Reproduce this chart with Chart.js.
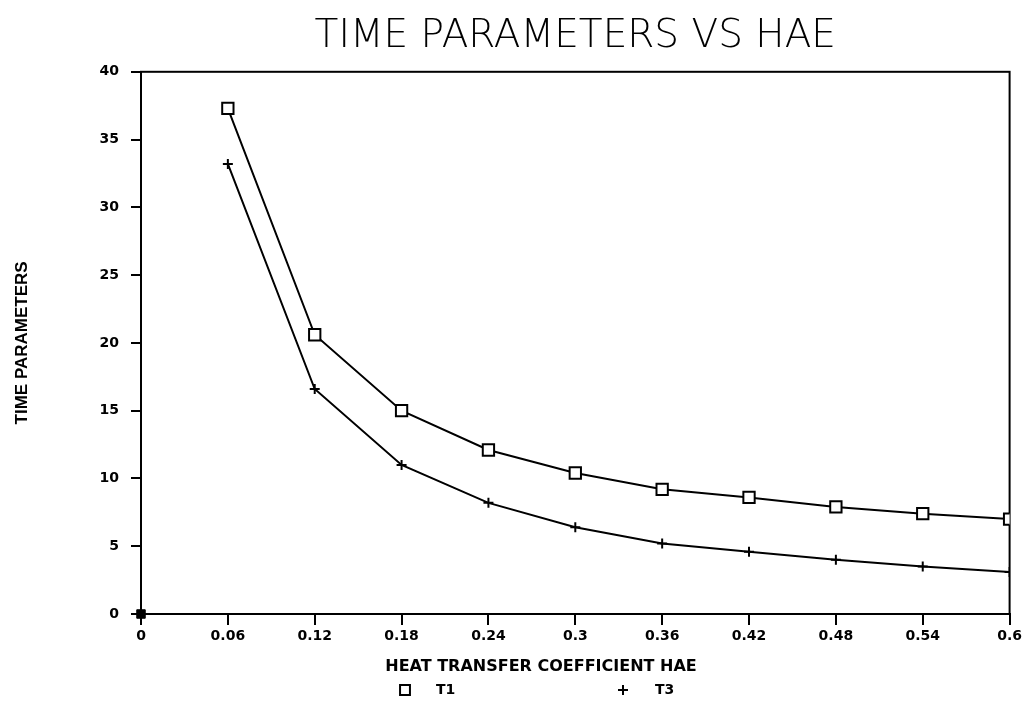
<!DOCTYPE html>
<html>
<head>
<meta charset="utf-8">
<title>Time parameters vs HAE</title>
<script src="https://cdn.jsdelivr.net/npm/chart.js@4.4.0/dist/chart.umd.min.js"></script>
<style>
  html, body { margin: 0; padding: 0; background: #fff; }
</style>
</head>
<body>
<canvas id="chart" width="1025" height="705"></canvas>
<script>
// values
const hae = [0.06, 0.12, 0.18, 0.24, 0.30, 0.36, 0.42, 0.48, 0.54, 0.60];
const t1 = [37.3, 20.6, 15.0, 12.1, 10.4, 9.2, 8.6, 7.9, 7.4, 7.0];
const t3 = [33.2, 16.6, 11.0, 8.2, 6.4, 5.2, 4.6, 4.0, 3.5, 3.1];
const originPoint = [0, 0];

const xTicks = [0, 0.06, 0.12, 0.18, 0.24, 0.30, 0.36, 0.42, 0.48, 0.54, 0.60];
const xTickLabels = ['0', '0.06', '0.12', '0.18', '0.24', '0.3', '0.36', '0.42', '0.48', '0.54', '0.6'];
const keyNames = ['T1', 'T3'];
const xCaption = 'HEAT TRANSFER COEFFICIENT HAE';

const tickFont = { family: 'DejaVu Sans', size: 14, weight: 'bold' };

// box round the plot area
const frame = {
    id: 'frame',
    beforeDatasetsDraw(chart) {
        const { ctx, chartArea: a } = chart;
        ctx.save();
        ctx.strokeStyle = '#000';
        ctx.lineWidth = 2;
        ctx.strokeRect(a.left, a.top, a.right - a.left, a.bottom - a.top);
        ctx.restore();
    }
};

// axis caption and key row under the x ticks, placed like the old plotter did
const keyRow = {
    id: 'keyRow',
    afterDraw(chart, args, opts) {
        const { ctx, chartArea: a } = chart;
        ctx.save();
        ctx.fillStyle = '#000';
        ctx.font = 'bold 16px "DejaVu Sans"';
        ctx.textBaseline = 'middle';
        ctx.textAlign = 'center';
        ctx.fillText(xCaption, a.left + opts.captionX, a.bottom + opts.captionDy);

        const y = a.bottom + opts.keyDy;
        ctx.font = 'bold 14px "DejaVu Sans"';
        ctx.textAlign = 'left';
        keyNames.forEach((name, i) => {
            const ds = chart.data.datasets[i];
            ctx.strokeStyle = '#000';
            ctx.fillStyle = '#fff';
            ctx.lineWidth = 2;
            Chart.helpers.drawPoint(ctx, {
                pointStyle: ds.pointStyle,
                radius: ds.pointStyle === 'rect' ? 7 : 5,
                rotation: 0,
                borderWidth: 2
            }, a.left + opts.markerX[i], y);
            ctx.fillStyle = '#000';
            ctx.fillText(name, a.left + opts.textX[i], y);
        });
        ctx.restore();
    }
};

new Chart(document.getElementById('chart'), {
    type: 'line',
    data: {
        datasets: [
            {
                label: keyNames[0],
                data: hae.map((x, i) => ({ x: x, y: t1[i] })),
                borderColor: '#000',
                borderWidth: 2,
                pointStyle: 'rect',
                pointRadius: 8,
                pointBorderWidth: 2,
                pointBackgroundColor: '#fff',
                pointBorderColor: '#000',
                tension: 0
            },
            {
                label: keyNames[1],
                data: hae.map((x, i) => ({ x: x, y: t3[i] })),
                borderColor: '#000',
                borderWidth: 2,
                pointStyle: 'cross',
                pointRadius: 5,
                pointBorderWidth: 2,
                pointBorderColor: '#000',
                tension: 0
            },
            {
                data: [{ x: originPoint[0], y: originPoint[1] }],
                showLine: false,
                pointStyle: 'rect',
                pointRadius: 6,
                pointBackgroundColor: '#000',
                pointBorderColor: '#000',
                clip: false
            }
        ]
    },
    options: {
        responsive: false,
        animation: false,
        devicePixelRatio: 1,
        layout: { padding: { left: 0, right: 15, top: 0, bottom: 25 } },
        scales: {
            x: {
                type: 'linear',
                min: 0,
                max: 0.6,
                afterBuildTicks: axis => { axis.ticks = xTicks.map(v => ({ value: v })); },
                afterFit: axis => { axis.height = 66; },
                ticks: {
                    color: '#000',
                    font: tickFont,
                    padding: 3,
                    maxRotation: 0,
                    autoSkip: false,
                    callback: (v, i) => xTickLabels[i]
                },
                grid: { drawOnChartArea: false, color: '#000', lineWidth: 2, tickLength: 11 },
                border: { color: '#000', width: 2 }
            },
            y: {
                min: 0,
                max: 40,
                afterFit: axis => { axis.width = 141; },
                ticks: { stepSize: 5, color: '#000', font: tickFont, padding: 12 },
                grid: { drawOnChartArea: false, color: '#000', lineWidth: 2, tickLength: 10 },
                border: { color: '#000', width: 2 },
                title: {
                    display: true,
                    text: 'TIME PARAMETERS',
                    color: '#000',
                    font: { family: 'Liberation Sans', size: 17, weight: 'bold' },
                    padding: { top: 12, bottom: 0 }
                }
            }
        },
        plugins: {
            legend: { display: false },
            tooltip: { enabled: false },
            title: {
                display: true,
                fullSize: false,
                text: 'TIME PARAMETERS VS HAE',
                color: '#000',
                font: { family: 'DejaVu Sans', size: 39, weight: 300 },
                padding: { top: 13, bottom: 12 }
            },
            keyRow: { captionX: 400, captionDy: 53, keyDy: 76, markerX: [264, 482], textX: [295, 514] }
        }
    },
    plugins: [frame, keyRow]
});
</script>
</body>
</html>
